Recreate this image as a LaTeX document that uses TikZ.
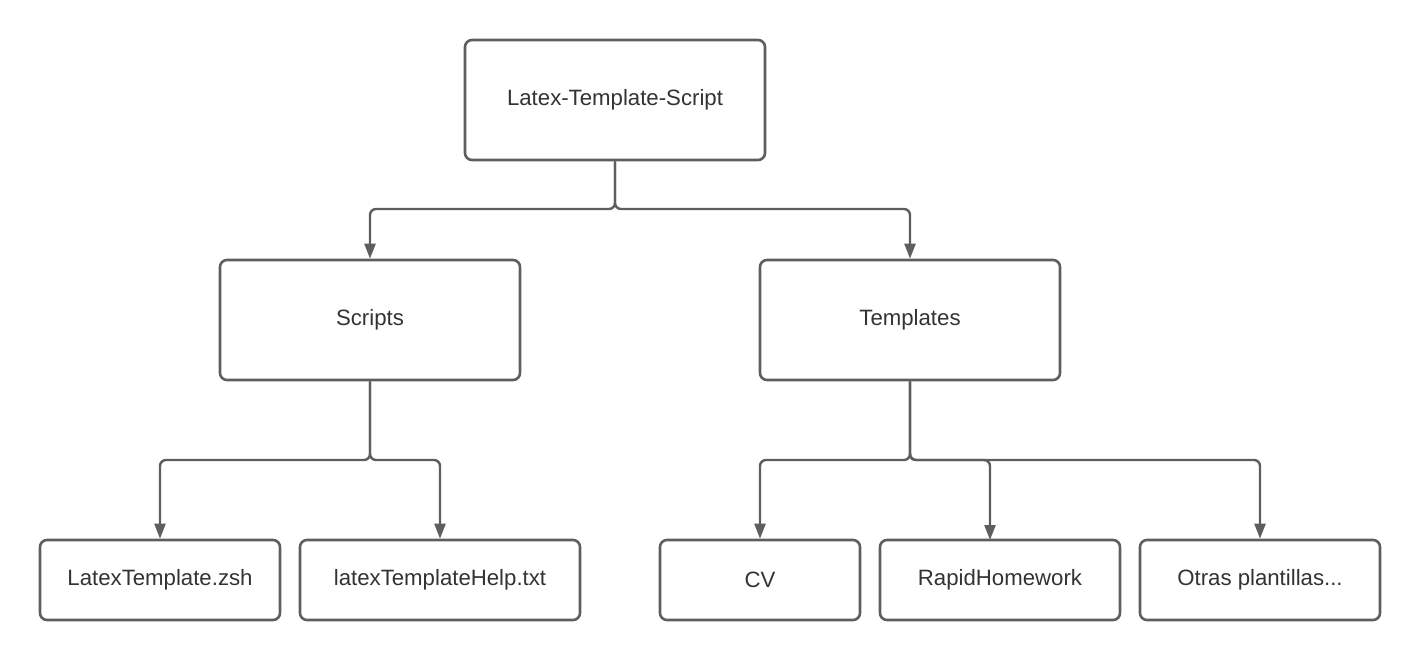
\documentclass[tikz,border=0pt]{standalone}
\usepackage{fontspec}
\setmainfont{Liberation Sans}
\usetikzlibrary{arrows.meta}
\definecolor{linegray}{HTML}{5E5E5E}
\definecolor{textgray}{HTML}{333333}
\begin{document}
\begin{tikzpicture}[x=1pt,y=-1pt,
  box/.style={draw=linegray, line width=2.6pt, rounded corners=7pt, fill=white,
    text=textgray, font=\fontsize{22.2}{26}\selectfont, inner sep=0pt},
  big/.style={box, minimum width=300pt, minimum height=120pt},
  leaf/.style={box, minimum height=80pt},
  conn/.style={draw=linegray, line width=2.4pt, rounded corners=6pt,
    -{Triangle[length=15pt,width=11pt]}}]
\useasboundingbox (0,0) rectangle (1420,660);
\node[big] (root) at (615,100) {Latex-Template-Script};
\node[big] (scripts) at (370,320) {Scripts};
\node[big] (templates) at (910,320) {Templates};
\node[leaf, minimum width=240pt] (zsh) at (160,580) {LatexTemplate.zsh};
\node[leaf, minimum width=280pt] (help) at (440,580) {latexTemplateHelp.txt};
\node[leaf, minimum width=200pt] (cv) at (760,580) {CV};
\node[leaf, minimum width=240pt] (rapid) at (1000,580) {RapidHomework};
\node[leaf, minimum width=240pt] (otras) at (1260,580) {Otras plantillas...};
\coordinate (rapidin) at (990,540);
\path[conn] (root.south) -- (root.south |- 0,209) -- (scripts.north |- 0,209) -- (scripts.north);
\path[conn] (root.south) -- (root.south |- 0,209) -- (templates.north |- 0,209) -- (templates.north);
\path[conn] (scripts.south) -- (scripts.south |- 0,460) -- (zsh.north |- 0,460) -- (zsh.north);
\path[conn] (scripts.south) -- (scripts.south |- 0,460) -- (help.north |- 0,460) -- (help.north);
\path[conn] (templates.south) -- (templates.south |- 0,460) -- (cv.north |- 0,460) -- (cv.north);
\path[conn] (templates.south) -- (templates.south |- 0,460) -- (rapidin |- 0,460) -- (rapidin);
\path[conn] (templates.south) -- (templates.south |- 0,460) -- (otras.north |- 0,460) -- (otras.north);
\end{tikzpicture}
\end{document}
